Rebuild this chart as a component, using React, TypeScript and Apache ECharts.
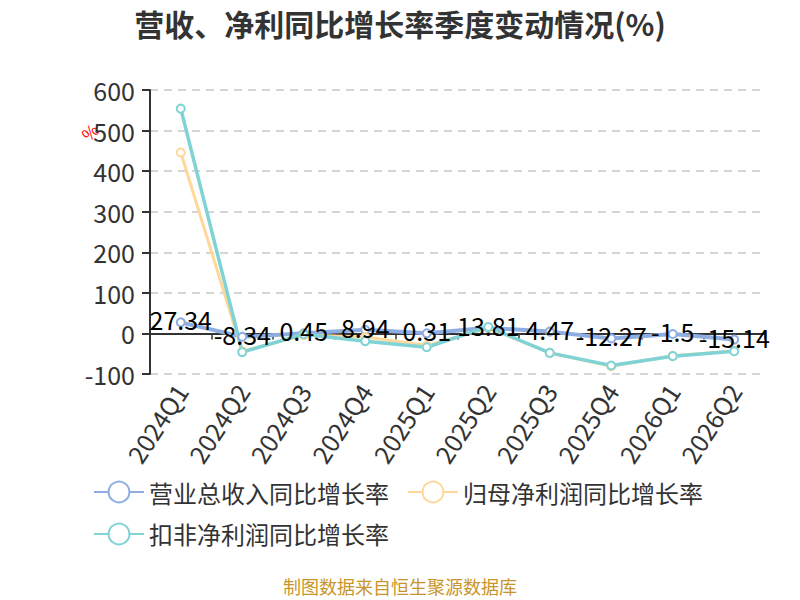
import React, { useEffect, useRef } from "react";
import * as echarts from "echarts";

const categories = ["2024Q1", "2024Q2", "2024Q3", "2024Q4", "2025Q1", "2025Q2", "2025Q3", "2025Q4", "2026Q1", "2026Q2"];
const revenueYoY = [27.34, -8.34, 0.45, 8.94, 0.31, 13.81, 4.47, -12.27, -1.5, -15.14];
const netProfitYoY = [446, -44, -4, -9, -30, 14, -48, -81, -55, -43];
const deductedProfitYoY = [554, -46, -2, -19, -34, 16, -48, -79, -56, -44];
const seriesNames = ["营业总收入同比增长率", "归母净利润同比增长率", "扣非净利润同比增长率"];
const colors = ["#8eade0", "#ffd899", "#80d3d5"];

const FONT = "'Noto Sans CJK SC', 'Noto Sans', sans-serif";

export default function App() {
  const ref = useRef<HTMLDivElement>(null);
  useEffect(() => {
    document.body.style.margin = "0";
    const chart = echarts.init(ref.current!, null, { renderer: "svg" });
    const mk = (i: number, data: number[], width: number, withLabel: boolean) => ({
      name: seriesNames[i],
      type: "line",
      data,
      xAxisIndex: 0,
      symbol: "emptyCircle",
      symbolSize: 8,
      lineStyle: { color: colors[i], width },
      itemStyle: { color: colors[i], borderWidth: 2 },
      label: withLabel
        ? { show: true, position: "inside", offset: [0, -3], fontSize: 25, color: "#000", fontFamily: FONT }
        : { show: false },
    });
    chart.setOption({
      animation: false,
      textStyle: { fontFamily: FONT },
      color: colors,
      title: {
        text: "营收、净利同比增长率季度变动情况(%)",
        left: "center",
        top: 3,
        textStyle: { fontSize: 30, fontWeight: "bold", color: "#333", fontFamily: FONT },
      },
      legend: {
        left: 88,
        top: 475,
        width: 650,
        itemWidth: 50,
        itemHeight: 26,
        itemGap: 18,
        textStyle: { fontSize: 24, color: "#333", fontFamily: FONT },
        data: seriesNames,
      },
      grid: { left: 150, right: 35, top: 90, bottom: 226, containLabel: false },
      xAxis: [
        {
          type: "category",
          data: categories,
          axisLine: { show: false, onZero: false },
          axisTick: { show: false },
          axisLabel: { rotate: 57, fontSize: 25, color: "#333", margin: 12, interval: 0, fontFamily: FONT },
        },
        {
          type: "category",
          data: categories,
          position: "bottom",
          axisLine: { show: true, onZero: true, lineStyle: { color: "#333", width: 2 } },
          axisTick: { show: true, length: 6, lineStyle: { color: "#333", width: 1.5 } },
          axisLabel: { show: false },
        },
      ],
      yAxis: {
        type: "value",
        min: -100,
        max: 600,
        interval: 100,
        axisLine: { show: true, lineStyle: { color: "#333", width: 2 } },
        axisTick: { show: true, length: 8, lineStyle: { color: "#333", width: 2 } },
        axisLabel: { fontSize: 25, color: "#333", margin: 15, fontFamily: FONT },
        splitLine: { show: true, lineStyle: { color: "#c8c8c8", type: [8, 6], width: 1.5 } },
      },
      graphic: [
        {
          type: "text",
          left: 78,
          top: 120,
          rotation: Math.PI / 4,
          style: { text: "%", fill: "#ff0000", fontSize: 17, fontFamily: FONT },
        },
        {
          type: "text",
          left: "center",
          top: 577,
          style: { text: "制图数据来自恒生聚源数据库", fill: "#c9952b", fontSize: 18, fontFamily: FONT },
        },
      ],
      series: [
        mk(0, revenueYoY, 4, true),
        mk(1, netProfitYoY, 3, false),
        mk(2, deductedProfitYoY, 3.5, false),
      ],
    });
    return () => chart.dispose();
  }, []);
  return <div ref={ref} style={{ width: 800, height: 600 }} />;
}
